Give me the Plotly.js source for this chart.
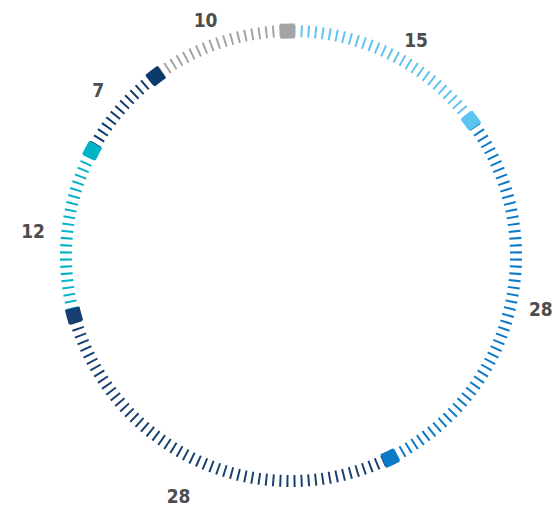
<!DOCTYPE html>
<html>
<head>
<meta charset="utf-8">
<script src="https://cdn.plot.ly/plotly-3.0.1.min.js"></script>
<style>html,body{margin:0;padding:0;background:#fff;}#chart{width:554px;height:506px;}</style>
</head>
<body>
<div id="chart"></div>
<script>
// Data: segments clockwise from 12 o'clock
const segmentLabels = ['15', '28', '28', '12', '7', '10'];
const segmentValues = [15, 28, 28, 12, 7, 10];
const segmentColors = ['#5cc4f0', '#0a79c6', '#163f6f', '#00b3c6', '#0b3a6b', '#a3a3a3'];

// Style constants
const TICKS_PER_UNIT = 2;
const TICK_BASE = 219, TICK_LEN = 12, TICK_WIDTH = 0.5;
const MARK_BASE = 217.5, MARK_LEN = 15, MARK_WIDTH = 3.7;
const LABEL_R = 257, LABEL_DX = -3;
const labelAngleNudge = [2.9, -4.1, 0, 0, 1, -0.7]; // small visual offsets (deg) from segment mid-angle
const CX = 291, CY = 256, W = 554, H = 506;

const total = segmentValues.reduce((a, b) => a + b, 0);
const nTicks = total * TICKS_PER_UNIT;
const step = 360 / nTicks;

const traces = [];
const markTheta = [], markColor = [];
const labelTheta = [];
let start = 0;
segmentValues.forEach((v, i) => {
  const k0 = start * TICKS_PER_UNIT;
  const k1 = (start + v) * TICKS_PER_UNIT - 1; // last tick -> marker
  const th = [];
  for (let k = k0; k < k1; k++) th.push((k + 0.5) * step);
  traces.push({
    type: 'barpolar',
    theta: th,
    r: th.map(() => TICK_LEN),
    base: th.map(() => TICK_BASE),
    width: th.map(() => TICK_WIDTH),
    marker: { color: segmentColors[i], line: { width: 0 } },
    hoverinfo: 'skip'
  });
  markTheta.push((k1 + 0.5) * step);
  markColor.push(segmentColors[i]);
  labelTheta.push((start + v / 2) / total * 360 + labelAngleNudge[i]);
  start += v;
});

traces.push({
  type: 'barpolar',
  theta: markTheta,
  r: markTheta.map(() => MARK_LEN),
  base: markTheta.map(() => MARK_BASE),
  width: markTheta.map(() => MARK_WIDTH),
  marker: { color: markColor, line: { width: 0 } },
  hoverinfo: 'skip'
});

// Labels on a cartesian overlay (1 unit = 1 px, origin at circle centre)
traces.push({
  type: 'scatter',
  mode: 'text',
  x: labelTheta.map(t => LABEL_DX + LABEL_R * Math.sin(t * Math.PI / 180)),
  y: labelTheta.map(t => LABEL_R * Math.cos(t * Math.PI / 180)),
  text: segmentLabels,
  textposition: 'bottom center',
  textfont: { family: '"Liberation Sans Narrow", "DejaVu Sans Condensed", "DejaVu Sans", sans-serif', size: 19, color: '#4d4d4d', weight: 'bold', stretch: 'condensed' },
  cliponaxis: false,
  hoverinfo: 'skip'
});

const layout = {
  width: W, height: H,
  margin: { l: 0, r: 0, t: 0, b: 0 },
  paper_bgcolor: '#ffffff',
  plot_bgcolor: 'rgba(0,0,0,0)',
  showlegend: false,
  xaxis: { range: [-CX, W - CX], visible: false, fixedrange: true },
  yaxis: { range: [-(H - CY), CY], visible: false, fixedrange: true },
  polar: {
    domain: { x: [(CX - 250) / W, (CX + 250) / W], y: [(H - CY - 250) / H, (H - CY + 250) / H] },
    bgcolor: 'rgba(0,0,0,0)',
    radialaxis: { range: [0, 250], visible: false, showgrid: false },
    angularaxis: { visible: false, showgrid: false, direction: 'clockwise', rotation: 90 }
  }
};

Plotly.newPlot('chart', traces, layout, { staticPlot: true, displayModeBar: false });
</script>
</body>
</html>
